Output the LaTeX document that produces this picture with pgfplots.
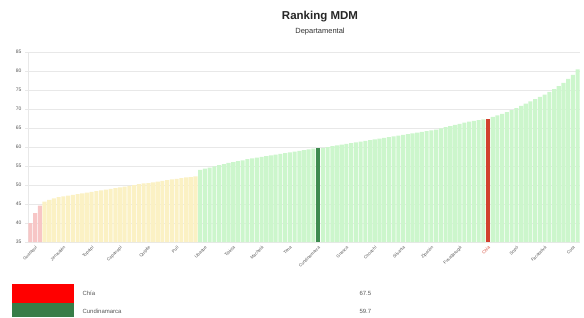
\documentclass[border=0pt]{standalone}
\usepackage{pgfplots}
\pgfplotsset{compat=1.18}
\usepackage{fontspec}
\setmainfont{Liberation Sans}
\definecolor{barred}{HTML}{F7C6C6}
\definecolor{baryel}{HTML}{FBF1C4}
\definecolor{bargrn}{HTML}{CCF6CC}
\definecolor{hlgrn}{HTML}{3E8B50}
\definecolor{hlred}{HTML}{D2402E}
\definecolor{gridc}{HTML}{E8E8E8}
\definecolor{txtc}{HTML}{555555}
\begin{document}
\begin{tikzpicture}[x=1pt,y=1pt]
\path[use as bounding box] (0,0) rectangle (584,317);
\begin{axis}[
  at={(28pt,75pt)}, anchor=south west,
  scale only axis, width=552pt, height=190pt,
  ybar, bar shift=0pt, bar width=0.86,
  xmin=-0.5, xmax=116.5, ymin=35, ymax=85,
  ytick={35,40,...,85},
  xtick={1,7,13,19,25,31,37,43,49,55,61,67,73,79,85,91,97,103,109,115},
  xticklabels={Guataquí,Jerusalén,Topaipí,Caparrapí,Quipile,Pulí,Ubaque,Tibirita,Machetá,Tena,Cundinamarca,Guasca,Choachí,Silvania,Zipacón,Fusagasugá,\textcolor{hlred}{Chía},Sopó,Facatativá,Cota},
  xticklabel style={rotate=45, anchor=north east, font=\fontsize{4.3}{5}\selectfont, text=txtc, inner sep=0.3pt},
  yticklabel style={font=\fontsize{5}{6}\selectfont, text=txtc},
  /pgf/number format/assume math mode=true,
  xtick style={draw=none},
  ytick style={draw=gridc},
  tick align=outside, major tick length=3pt,
  ymajorgrids, grid style={gridc, line width=0.4pt},
  axis x line*=bottom, axis y line*=left,
  axis line style={gridc, line width=0.6pt},
]
\addplot[fill=barred, draw=none] coordinates {(0,40.0) (1,42.6) (2,44.6)};
\addplot[fill=baryel, draw=none] coordinates {
(3,45.6) (4,46.1) (5,46.5) (6,46.8) (7,47.0) (8,47.2) (9,47.4) (10,47.6) (11,47.8) (12,48.0)
(13,48.2) (14,48.4) (15,48.6) (16,48.8) (17,49.0) (18,49.2) (19,49.4) (20,49.6) (21,49.8) (22,50.0)
(23,50.2) (24,50.4) (25,50.5) (26,50.7) (27,50.9) (28,51.1) (29,51.3) (30,51.5) (31,51.6) (32,51.8)
(33,52.0) (34,52.1) (35,52.3)};
\addplot[fill=bargrn, draw=none] coordinates {
(36,54.0) (37,54.3) (38,54.6) (39,54.9) (40,55.2) (41,55.5) (42,55.8) (43,56.0) (44,56.3) (45,56.5)
(46,56.8) (47,57.0) (48,57.2) (49,57.4) (50,57.6) (51,57.8) (52,58.0) (53,58.2) (54,58.4) (55,58.6)
(56,58.8) (57,59.0) (58,59.2) (59,59.4) (60,59.6)
(62,59.8) (63,60.0) (64,60.2) (65,60.4) (66,60.6) (67,60.8) (68,61.0) (69,61.2) (70,61.4) (71,61.6)
(72,61.8) (73,62.0) (74,62.2) (75,62.4) (76,62.6) (77,62.8) (78,63.0) (79,63.2) (80,63.4) (81,63.6)
(82,63.8) (83,64.0) (84,64.2) (85,64.4) (86,64.6) (87,64.9) (88,65.2) (89,65.5) (90,65.8) (91,66.1)
(92,66.4) (93,66.7) (94,66.9) (95,67.1) (96,67.3)
(98,67.9) (99,68.3) (100,68.7) (101,69.2) (102,69.7) (103,70.2) (104,70.8) (105,71.4) (106,72.0) (107,72.6)
(108,73.2) (109,73.8) (110,74.5) (111,75.2) (112,76.0) (113,76.9) (114,77.9) (115,79.0) (116,80.4)};
\addplot[fill=hlgrn, draw=none] coordinates {(61,59.7)};
\addplot[fill=hlred, draw=none] coordinates {(97,67.5)};
\end{axis}
% titles
\node[font=\fontsize{11.5}{14}\selectfont\bfseries, text=black!85] at (320,300) {Ranking MDM};
\node[font=\fontsize{7.5}{10}\selectfont, text=black!80] at (320,285) {Departamental};
% legend table
\fill[red] (12,14) rectangle (74,33);
\fill[hlgrn!90!black] (12,0) rectangle (74,14);
\node[anchor=west, font=\fontsize{6}{7}\selectfont, text=txtc] at (79,24) {Chía};
\node[anchor=west, font=\fontsize{6}{7}\selectfont, text=txtc] at (79,6) {Cundinamarca};
\node[anchor=west, font=\fontsize{6}{7}\selectfont, text=txtc] at (356,24) {67.5};
\node[anchor=west, font=\fontsize{6}{7}\selectfont, text=txtc] at (356,6) {59.7};
\end{tikzpicture}
\end{document}
